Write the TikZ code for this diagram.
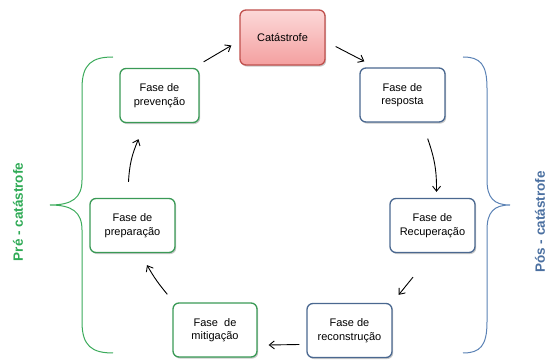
\documentclass[tikz,border=0pt]{standalone}
\usepackage{fontspec}
\setmainfont{Liberation Sans}
\usetikzlibrary{shadows,arrows.meta}
\definecolor{gborder}{HTML}{3A9A56}
\definecolor{bborder}{HTML}{4A6890}
\definecolor{rborder}{HTML}{C0504D}
\definecolor{rtop}{HTML}{FCD8D8}
\definecolor{rbot}{HTML}{F4A0A0}
\definecolor{glabel}{HTML}{2EAA55}
\definecolor{blabel}{HTML}{4A6FA0}
\definecolor{gbrace}{HTML}{3AAA5A}
\definecolor{bbrace}{HTML}{5B82B5}
\tikzset{
  phase/.style={draw, line width=1.3pt, rounded corners=6pt, fill=white,
    minimum width=84pt, minimum height=54pt, align=center, inner sep=1pt,
    font=\fontsize{11}{13.5}\selectfont,
    drop shadow={shadow xshift=1.2pt, shadow yshift=-1.6pt, opacity=0.35, fill=black!60}},
  greenbox/.style={phase, draw=gborder},
  bluebox/.style={phase, draw=bborder},
  redbox/.style={phase, draw=rborder, top color=rtop, bottom color=rbot},
  arr/.style={-{Straight Barb[length=5pt,width=8pt]}, line width=0.9pt, black},
  bracepath/.style={line width=1pt},
  sidelabel/.style={rotate=90, font=\bfseries\fontsize{13.5}{16}\selectfont}
}
\begin{document}
\begin{tikzpicture}[x=1pt,y=-1pt]
\useasboundingbox (0,0) rectangle (547,363);
\node[redbox, minimum width=85pt, minimum height=55pt] (cat) at (282.5,37.5) {Catástrofe};
\node[bluebox, minimum width=85pt] (resp) at (402.5,95) {Fase de\\resposta};
\node[bluebox, minimum width=85pt] (recup) at (432.5,225.5) {Fase de\\Recuperação};
\node[bluebox, minimum width=85pt] (recon) at (349.5,330.5) {Fase de\\reconstrução};
\node[greenbox, minimum width=84pt] (mitig) at (215,330) {Fase\ \ de\\mitigação};
\node[greenbox, minimum width=85pt] (prep) at (132.5,225.5) {Fase de\\preparação};
\node[greenbox, minimum width=79pt] (prev) at (159.5,95.5) {Fase de\\prevenção};

% arrows
\draw[arr] ([shift={(4,-6)}]prev.north east) -- ([shift={(-8,8)}]cat.west);
\draw[arr] ([shift={(10,9)}]cat.east) -- ([shift={(5,-6)}]resp.north west);
\draw[arr] ([shift={(-18,16)}]resp.south east) to[bend left=10] ([shift={(4,-6)}]recup.north);
\draw[arr] ([shift={(-19.5,24)}]recup.south) -- ([shift={(6,-8)}]recon.north east);
\draw[arr] ([shift={(-7,14)}]recon.west) -- ([shift={(11,15)}]mitig.east);
\draw[arr] ([shift={(-5,-8)}]mitig.north west) to[bend left=5] ([shift={(14.5,12)}]prep.south);
\draw[arr] ([shift={(-4,-16)}]prep.north) to[bend left=10] ([shift={(-21,16)}]prev.south);

% braces
\draw[bracepath, gbrace] (113,57) .. controls (92,57) and (82,64) .. (82,88) -- (82,180)
  .. controls (82,198) and (72,205) .. (50,205)
  .. controls (72,205) and (82,212) .. (82,230) -- (82,322)
  .. controls (82,346) and (92,353) .. (113,353);
\draw[bracepath, bbrace] (463,57) .. controls (480,57) and (487,64) .. (487,88) -- (487,180)
  .. controls (487,198) and (494,205) .. (510,205)
  .. controls (494,205) and (487,212) .. (487,230) -- (487,322)
  .. controls (487,346) and (480,353) .. (463,353);

\node[sidelabel, text=glabel] (prelbl) at (18,212) {Pré - catástrofe};
\node[sidelabel, text=blabel] (poslbl) at (540,222) {Pós - catástrofe};
\end{tikzpicture}
\end{document}
